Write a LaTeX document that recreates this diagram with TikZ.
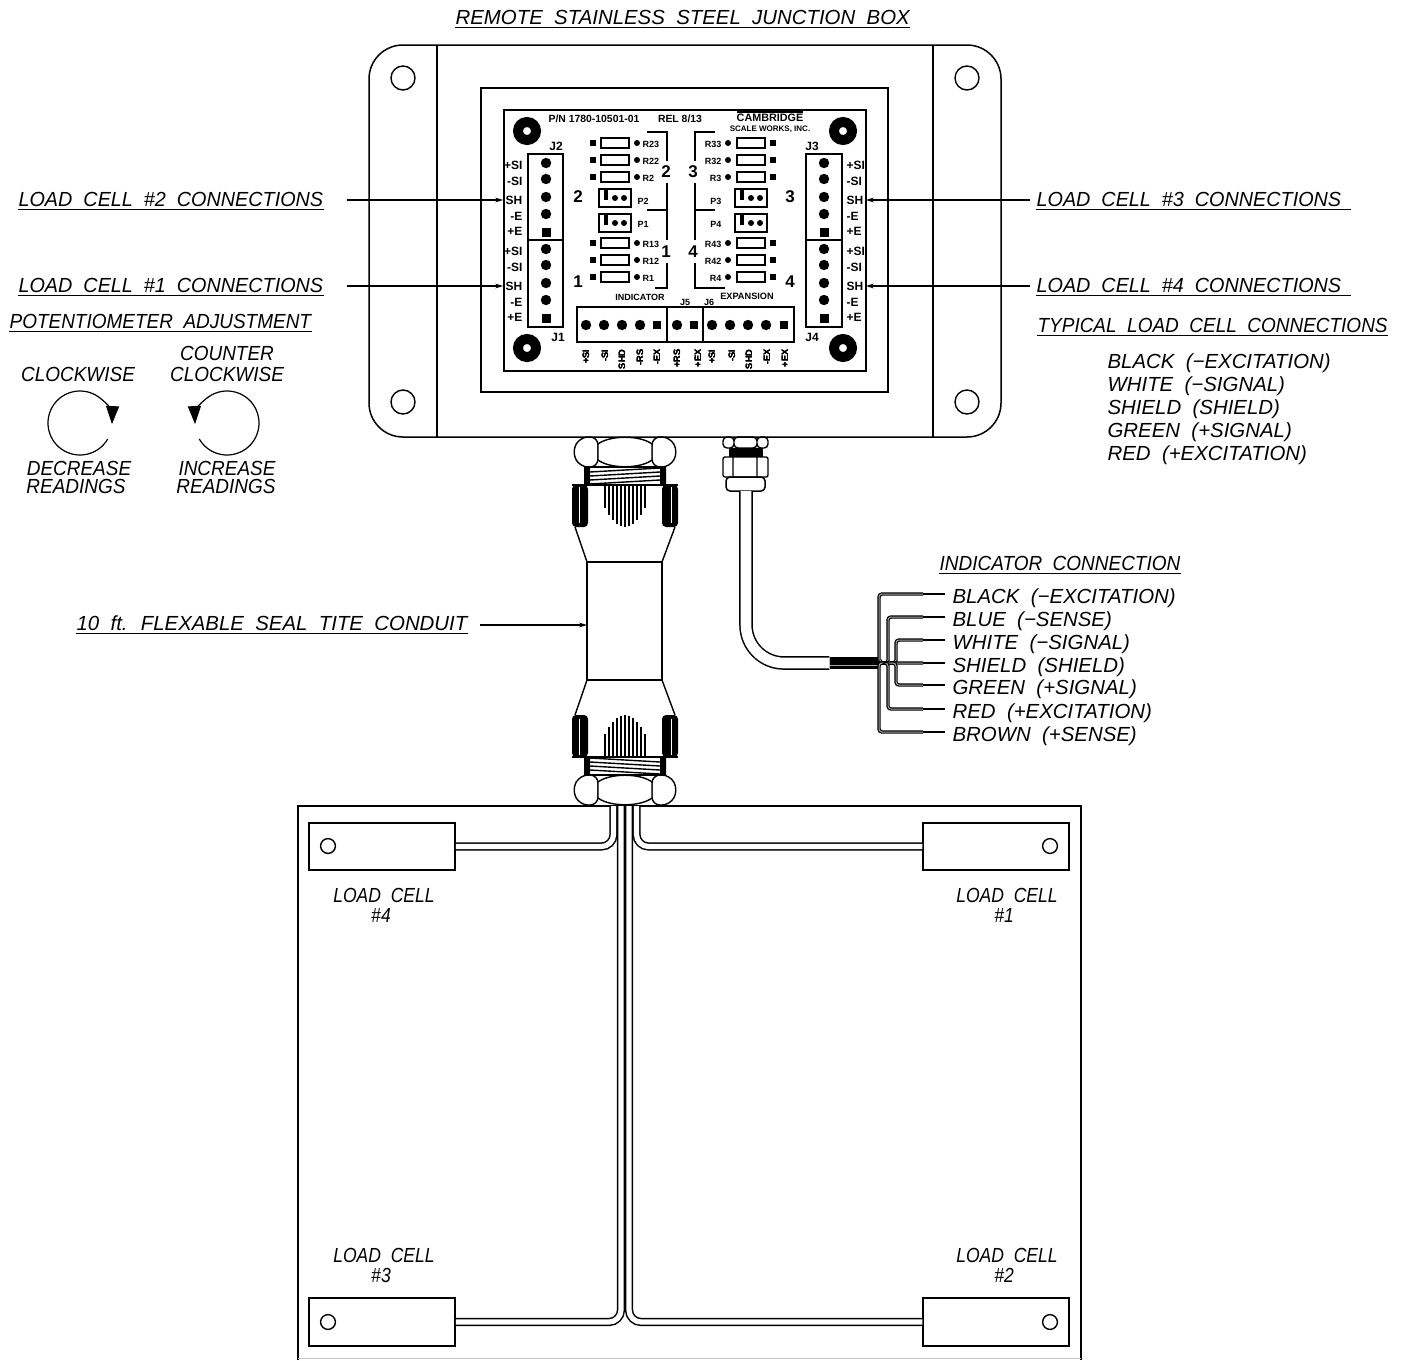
\documentclass[tikz,border=0pt]{standalone}
\usepackage{fontspec}
\setmainfont{Liberation Sans}
\newfontfamily\cadfont[WordSpace=2]{Liberation Sans}
\newfontfamily\cadsemi[WordSpace=2,FakeStretch=.97]{Liberation Sans}
\newfontfamily\cadtight[WordSpace=2,FakeStretch=.93]{Liberation Sans}
\newfontfamily\cadnarrow[WordSpace=2,FakeStretch=.86]{Liberation Sans}
\usetikzlibrary{arrows.meta}
\newcommand{\sqpad}[3]{\fill (#1-#3,#2-#3) rectangle (#1+#3,#2+#3);}
\newcommand{\cadsize}{\itshape\fontsize{10.2}{12}\selectfont}
\newcommand{\pcbsize}[1]{\bfseries\fontsize{#1}{7}\selectfont}
\tikzset{
  cad/.style={font=\cadfont\cadsize,text height=7.5pt,text depth=0pt,inner xsep=0pt,inner ysep=1.3pt,anchor=west},
  cadsm/.style={cad,font=\cadsemi\cadsize},
  cadti/.style={cad,font=\cadtight\cadsize},
  cadc/.style={cadti,anchor=center},
  cellname/.style={cad,font=\cadnarrow\cadsize,anchor=center},
  pcb/.style={font=\pcbsize{5.2},inner sep=1pt},
  pcbsmall/.style={pcb,font=\pcbsize{4.5},inner sep=0pt},
  pcbterm/.style={pcb,font=\pcbsize{6}},
  pcbnum/.style={font=\pcbsize{8.5},inner sep=0pt},
  pcbpin/.style={pcb,font=\pcbsize{4.6},rotate=90,anchor=east,inner sep=0pt},
  part/.style={draw,line width=.75pt,inner sep=0pt,fill=white},
  leader/.style={line width=.55pt,-{Stealth[length=4pt,width=2.4pt]}},
  cable/.style={draw=black,line width=.75pt,double=white,double distance=2.6pt,rounded corners=6pt},
  wire/.style={draw=black,line width=.6pt,double=gray!70,double distance=.5pt,rounded corners=1.5pt},
  turn/.style={line width=.6pt,-{Triangle[length=9pt,width=6.5pt]}}
}
\begin{document}
\begin{tikzpicture}[x=.5pt,y=-.5pt,line width=.6pt]
\useasboundingbox (0,0) rectangle (1407,1360);
% junction box
\draw[line width=.75pt,rounded corners=17pt] (369,45) rectangle (1001,437);
\draw[line width=.75pt] (437,45) -- (437,437) (933,45) -- (933,437);
\draw[line width=.75pt] (481,88) rectangle (888,392);
\draw[line width=.8pt] (504,110) rectangle (866,371);
\foreach \xx in {403,967}
  \foreach \yy in {78,402}
    \draw[line width=.7pt] (\xx,\yy) circle (6pt);
\foreach \xx in {527,843}
  \foreach \yy in {131,348}
    \draw[line width=5pt] (\xx,\yy) circle (4.5pt);
% board headers
\draw (528,154) rectangle (563,327) (528,240) -- (563,240);
\draw (806,154) rectangle (842,327) (806,240) -- (842,240);
\foreach \xx in {546,824}
  \foreach \dy in {0,86} {
    \foreach \yy in {163,179,197,214}
      \fill (\xx,\yy+\dy) circle (2.6pt);
    \sqpad{\xx}{232+\dy}{4.5}
  }
\foreach \jl/\jr/\dy in {j2/j3/0,j1/j4/86}
  \foreach \tt/\yy/\nm in {+SI/165/pa,-SI/181/pb,SH/200/sh,-E/216/pc,+E/231/pd} {
    \node[pcbterm,anchor=east] (\jl\nm) at (525,\yy+\dy) {\tt};
    \node[pcbterm,anchor=west] (\jr\nm) at (844,\yy+\dy) {\tt};
  }
\node[pcbterm] (j2name) at (556,146) {J2};
\node[pcbterm] (j3name) at (812,146) {J3};
\node[pcbterm] (j1name) at (558,337) {J1};
\node[pcbterm] (j4name) at (812,337) {J4};
% trim resistors
\foreach \yy/\rl/\rr in {143/R23/R33,160/R22/R32,177/R2/R3,243/R13/R43,260/R12/R42,277/R1/R4} {
  \sqpad{593}{\yy}{2.8}
  \draw (601,\yy-5) rectangle (629,\yy+5);
  \fill (637,\yy) circle (1.5pt);
  \node[pcbsmall,anchor=west] (\rl) at (642,\yy+1) {\rl};
  \sqpad{773}{\yy}{2.8}
  \draw (737,\yy-5) rectangle (765,\yy+5);
  \fill (728,\yy) circle (1.5pt);
  \node[pcbsmall,anchor=east] (\rr) at (722,\yy+1) {\rr};
}
% pots
\foreach \xx/\yy in {599/189,599/214,735/189,735/214} {
  \draw (\xx,\yy) rectangle (\xx+32,\yy+18);
  \fill (\xx+5,\yy+1) rectangle (\xx+9,\yy+11);
  \fill (\xx+16,\yy+9) circle (1.5pt) (\xx+25,\yy+9) circle (1.5pt);
}
\node[pcbsmall,anchor=west] (P2) at (637,201) {P2};
\node[pcbsmall,anchor=west] (P1) at (637,224) {P1};
\node[pcbsmall,anchor=east] (P3) at (722,201) {P3};
\node[pcbsmall,anchor=east] (P4) at (722,224) {P4};
% channel brackets
\draw (647,132) -- (667,132) -- (667,161) (667,183) -- (667,240) (667,263) -- (667,288) -- (655,288);
\draw (647,210) -- (667,210);
\draw (715,132) -- (695,132) -- (695,161) (695,183) -- (695,240) (695,263) -- (695,288) -- (725,288);
\draw (695,210) -- (715,210);
\node[pcbnum] (n2a) at (666,172) {2};
\node[pcbnum] (n3a) at (693,172) {3};
\node[pcbnum] (n1a) at (666,252) {1};
\node[pcbnum] (n4a) at (693,252) {4};
\node[pcbnum] (n2b) at (578,197) {2};
\node[pcbnum] (n3b) at (790,197) {3};
\node[pcbnum] (n1b) at (578,282) {1};
\node[pcbnum] (n4b) at (790,282) {4};
% board text
\node[pcb] (partno) at (594,119) {P/N 1780-10501-01};
\node[pcb] (rel) at (680,119) {REL 8/13};
\node[pcb,font=\pcbsize{5.4}] (cambridge) at (770,118) {CAMBRIDGE};
\draw (737,112) -- (803,112);
\node[pcb,font=\pcbsize{4}] (scale) at (770,129) {SCALE WORKS, INC.};
\node[pcbsmall] (indicator) at (640,297) {INDICATOR};
\node[pcbsmall,font=\pcbsize{4.6}] (expansion) at (747,296) {EXPANSION};
\node[pcbsmall] (j5name) at (685,302) {J5};
\node[pcbsmall] (j6name) at (709,302) {J6};
% bottom connector
\draw (577,307) rectangle (794,342) (667,307) -- (667,342) (703,307) -- (703,342);
\foreach \xx in {586,604,622,640,677,712,730,748,766}
  \fill (\xx,325) circle (2.6pt);
\foreach \xx in {657,694,784}
  \sqpad{\xx}{325}{4.2}
\foreach \xx/\tt/\nm in {586/+SI/pina,605/-SI/pinb,622/SHD/pinc,640/-RS/pind,657/-EX/pine,677/+RS/pinf,698/+EX/ping,712/+SI/pinh,732/-SI/pini,749/SHD/pinj,767/-EX/pink,785/+EX/pinl}
  \node[pcbpin] (\nm) at (\xx,349) {\tt};
% glands and conduit
\foreach \s in {1,-1} {
  \begin{scope}[shift={(625,621)},yscale=\s,line width=.7pt]
    \draw[rounded corners=4pt] (-27,-184) -- (-45,-184) -- (-53,-169) -- (-45,-154) -- (-27,-154) -- cycle;
    \draw[rounded corners=4pt] (27,-184) -- (45,-184) -- (53,-169) -- (45,-154) -- (27,-154) -- cycle;
    \draw[fill=white] (-27,-177) .. controls (-15,-186) and (15,-186) .. (27,-177) -- (27,-161) .. controls (15,-152) and (-15,-152) .. (-27,-161) -- cycle;
    \draw (-37,-154) rectangle (37,-136);
    \foreach \i in {0,1,2,3}
      \draw (-35,-149+\i*4) -- (35,-153+\i*4);
    \fill (-41,-154) rectangle (-35,-136) (35,-154) rectangle (41,-136);
    \fill[rounded corners=2pt] (-53,-136) rectangle (-37,-94);
    \fill[rounded corners=2pt] (37,-136) rectangle (53,-94);
    \draw[white,line width=.25pt] (-46,-134) -- (-46,-98) (46,-134) -- (46,-98);
    \draw (-53,-136) -- (53,-136);
    \draw (-50,-94) -- (-38,-59) (50,-94) -- (37,-59);
    \draw (-38,-59) -- (37,-59);
    \foreach \xx/\ll in {-20/23,-16/30,-12/35,-8/39,-4/41,0/42,4/41,8/39,12/35,16/30,20/23}
      \draw[line width=.55pt] (\xx,-136) -- (\xx,-136+\ll);
  \end{scope}
}
\draw[line width=.7pt] (587,562) -- (587,680) (662,562) -- (662,680);
% small gland
\draw[line width=.7pt,rounded corners=2pt] (723,437) rectangle (734,448) (757,437) rectangle (768,448) (734,437) rectangle (757,448);
\fill (729,448) rectangle (763,457);
\draw[line width=.7pt,rounded corners=1pt] (723,457) rectangle (768,477) (733,457) -- (733,477) (757,457) -- (757,477);
\node[part,rounded corners=2pt,minimum width=19.5pt,minimum height=7pt] (cablegland) at (745.5,484) {};
\coordinate (cabletop) at (746,491);
\node[fill=black,inner sep=0pt,minimum width=25pt,minimum height=6pt] (jacket) at (855,663) {};
\draw[cable,double distance=5.3pt,rounded corners=19pt] (cabletop) |- (jacket.west);
\draw[gray!70,line width=.5pt] (830,665) -- (880,665);
% indicator wires
\node[cadti] (indhead) at (939,563) {INDICATOR CONNECTION};
\draw[line width=.55pt] (indhead.south west) -- (indhead.south east);
\foreach \xx/\yy/\tt/\nm in {879/594/BLACK (−EXCITATION)/wblack,888/617/BLUE (−SENSE)/wblue,896/640/WHITE (−SIGNAL)/wwhite,880/663/SHIELD (SHIELD)/wshield,896/685/GREEN (+SIGNAL)/wgreen,888/709/RED (+EXCITATION)/wred,879/732/BROWN (+SENSE)/wbrown} {
  \node[cad] (\nm) at (952,\yy+2) {\tt};
  \coordinate (\nm stub) at (923,\yy);
  \draw[wire] (jacket.east) -| (\xx,\yy) -- (\nm stub);
  \draw[line width=.55pt] (\nm stub) -- (945,\yy);
}
% titles and callouts
\node[cad] (title) at (455,17) {REMOTE STAINLESS STEEL JUNCTION BOX};
\node[cadsm] (lc2) at (18,199) {LOAD CELL \#2 CONNECTIONS};
\node[cadsm] (lc1) at (18,285) {LOAD CELL \#1 CONNECTIONS};
\node[cadti] (pothead) at (9,321) {POTENTIOMETER ADJUSTMENT};
\node[cadsm] (lc3) at (1036,199) {\makebox[157pt][l]{LOAD CELL \#3 CONNECTIONS}};
\node[cadsm] (lc4) at (1036,285) {\makebox[157pt][l]{LOAD CELL \#4 CONNECTIONS}};
\node[cadti] (typhead) at (1037,325) {TYPICAL LOAD CELL CONNECTIONS};
\node[cad] (condhead) at (76,623) {10 ft. FLEXABLE SEAL TITE CONDUIT};
\foreach \nm in {title,lc2,lc1,pothead,lc3,lc4,typhead,condhead}
  \draw[line width=.55pt] (\nm.south west) -- (\nm.south east);
\coordinate (lc2end) at (347,200);
\coordinate (lc1end) at (347,286);
\coordinate (lc3end) at (1030,200);
\coordinate (lc4end) at (1030,286);
\coordinate (condend) at (480,625);
\coordinate (condhit) at (587,625);
\draw[leader] (lc2end) -- (j2sh.west);
\draw[leader] (lc1end) -- (j1sh.west);
\draw[leader] (lc3end) -- (j3sh.east);
\draw[leader] (lc4end) -- (j4sh.east);
\draw[leader] (condend) -- (condhit);
\foreach \yy/\tt/\nm in {361/BLACK (−EXCITATION)/tblack,384/WHITE (−SIGNAL)/twhite,407/SHIELD (SHIELD)/tshield,430/GREEN (+SIGNAL)/tgreen,453/RED (+EXCITATION)/tred}
  \node[cad] (\nm) at (1107,\yy) {\tt};
% pot adjustment
\node[cadc] (cw) at (78,374) {CLOCKWISE};
\node[cadc] (ccwa) at (227,353) {COUNTER};
\node[cadc] (ccwb) at (227,374) {CLOCKWISE};
\node[cadc] (deca) at (79,468) {DECREASE};
\node[cadc] (decb) at (76,486) {READINGS};
\node[cadc] (inca) at (227,468) {INCREASE};
\node[cadc] (incb) at (226,486) {READINGS};
\draw[turn] (107.7,439) arc[start angle=30,end angle=362,radius=32];
\draw[turn] (199.3,439) arc[start angle=150,end angle=-182,radius=32];
% scale frame and load cells
\draw[line width=.75pt] (298,1360) -- (298,806) -- (1081,806) -- (1081,1360);
\draw[gray!45,line width=.4pt] (298,1358) -- (1081,1358);
\node[part,minimum width=73pt,minimum height=23.5pt] (cell4) at (382,846.5) {};
\node[part,minimum width=73pt,minimum height=23.5pt] (cell1) at (996,846.5) {};
\node[part,minimum width=73pt,minimum height=24pt] (cell3) at (382,1322) {};
\node[part,minimum width=73pt,minimum height=24pt] (cell2) at (996,1322) {};
\foreach \xx/\yy in {328/846,1050/846,328/1322,1050/1322}
  \draw[line width=.7pt] (\xx,\yy) circle (3.7pt);
\coordinate (nutc3) at (621,806);
\coordinate (nutc2) at (629,806);
\coordinate (nutc4) at (613.5,806);
\coordinate (nutc1) at (636.5,806);
\draw[cable] (cell3.east) -| (nutc3);
\draw[cable] (cell2.west) -| (nutc2);
\draw[cable] (cell4.east) -| (nutc4);
\draw[cable] (cell1.west) -| (nutc1);
\foreach \xx/\yy/\nm/\tt in {384/895/lcnd/\#4,1007/895/lcne/\#1,384/1255/lcnf/\#3,1007/1255/lcng/\#2} {
  \node[cellname] (\nm) at (\xx,\yy) {LOAD CELL};
  \node[cellname] (\nm num) at (\xx-3,\yy+20) {\tt};
}
\end{tikzpicture}
\end{document}
